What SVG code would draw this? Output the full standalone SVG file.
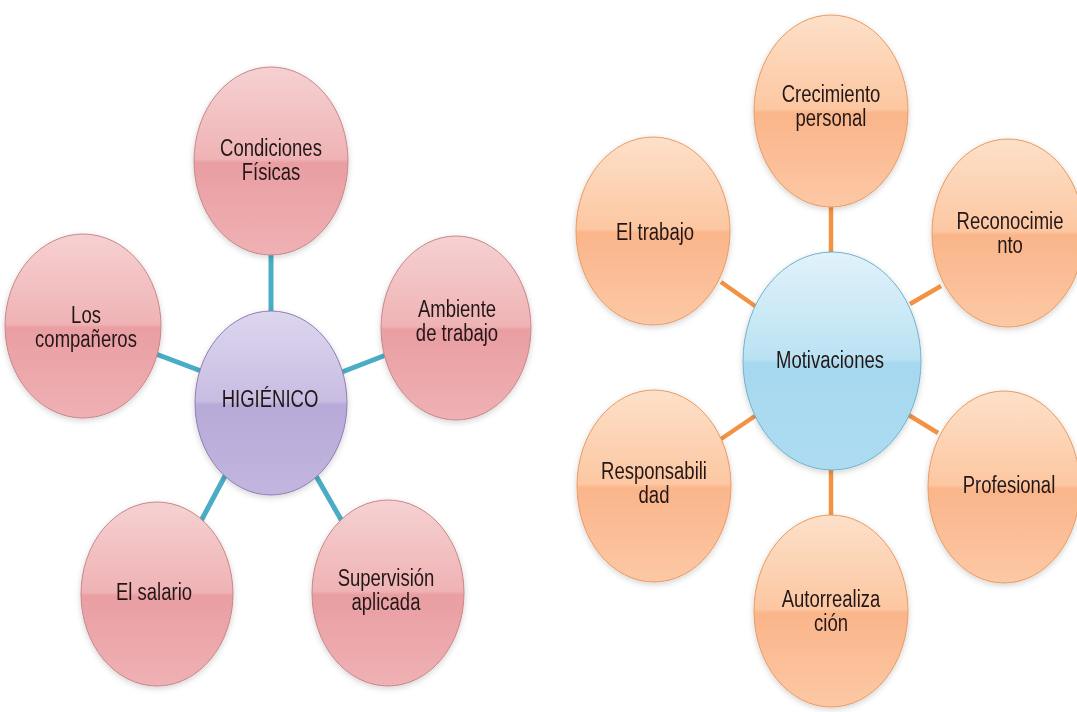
<svg xmlns="http://www.w3.org/2000/svg" width="1077" height="712" viewBox="0 0 1077 712">
<style>
.t{font-family:"Liberation Sans",Arial,sans-serif;font-size:18.5px;text-anchor:middle;fill:#241818}
.pk{fill:url(#gPink);stroke:#c98587;stroke-width:1}
.pu{fill:url(#gPurple);stroke:#8f7db5;stroke-width:1}
.or{fill:url(#gOrange);stroke:#e99a5f;stroke-width:1}
.bl{fill:url(#gBlue);stroke:#6db3cc;stroke-width:1}
.ct{stroke:#4aacc5;stroke-width:5;stroke-linecap:butt}
.co{stroke:#f29344;stroke-width:4.5;stroke-linecap:butt}
.sh{filter:url(#shadow)}
</style>
<defs>
<linearGradient id="gPink" x1="0" y1="0" x2="0" y2="1">
<stop offset="0" stop-color="#f6d1d2"/><stop offset="0.49" stop-color="#efb3b5"/><stop offset="0.51" stop-color="#e99ea2"/><stop offset="1" stop-color="#efb1b4"/>
</linearGradient>
<linearGradient id="gPurple" x1="0" y1="0" x2="0" y2="1">
<stop offset="0" stop-color="#ddd6ee"/><stop offset="0.49" stop-color="#c8bde2"/><stop offset="0.51" stop-color="#b8aad8"/><stop offset="1" stop-color="#c2b5de"/>
</linearGradient>
<linearGradient id="gOrange" x1="0" y1="0" x2="0" y2="1">
<stop offset="0" stop-color="#fde0c9"/><stop offset="0.49" stop-color="#fcc7a1"/><stop offset="0.51" stop-color="#fab58a"/><stop offset="1" stop-color="#fcc8a5"/>
</linearGradient>
<linearGradient id="gBlue" x1="0" y1="0" x2="0" y2="1">
<stop offset="0" stop-color="#e1f2fa"/><stop offset="0.49" stop-color="#bae2f3"/><stop offset="0.51" stop-color="#a6d8ef"/><stop offset="1" stop-color="#addcf1"/>
</linearGradient>
<filter id="shadow" x="-20%" y="-20%" width="140%" height="140%">
<feGaussianBlur in="SourceAlpha" stdDeviation="3"/><feOffset dx="0" dy="2" result="b"/>
<feComponentTransfer><feFuncA type="linear" slope="0.18"/></feComponentTransfer>
<feMerge><feMergeNode/><feMergeNode in="SourceGraphic"/></feMerge>
</filter>
</defs>
<rect width="1077" height="712" fill="#ffffff"/>
<g id="connectors">
<line class="ct" x1="271" y1="254" x2="271" y2="313"/>
<line class="ct" x1="156" y1="354" x2="201" y2="371"/>
<line class="ct" x1="342" y1="372" x2="386" y2="355"/>
<line class="ct" x1="226" y1="474" x2="201" y2="521"/>
<line class="ct" x1="316" y1="476" x2="343" y2="523"/>
<line class="co" x1="831" y1="206" x2="831" y2="253"/>
<line class="co" x1="721" y1="282" x2="755" y2="306"/>
<line class="co" x1="910" y1="304" x2="941" y2="286"/>
<line class="co" x1="721" y1="439" x2="755" y2="416"/>
<line class="co" x1="907" y1="414" x2="938" y2="433"/>
<line class="co" x1="831" y1="469" x2="831" y2="517"/>
</g>
<g id="cond" class="sh"><ellipse class="pk" cx="271" cy="161" rx="77" ry="94"/>
<text class="t" transform="translate(271,156) scale(1,1.25)"><tspan x="0" y="0">Condiciones</tspan><tspan x="0" y="19.5">Físicas</tspan></text></g>
<g id="companeros" class="sh"><ellipse class="pk" cx="83" cy="326" rx="78" ry="92"/>
<text class="t" transform="translate(86,323) scale(1,1.25)"><tspan x="0" y="0">Los</tspan><tspan x="0" y="19.5">compañeros</tspan></text></g>
<g id="ambiente" class="sh"><ellipse class="pk" cx="456" cy="328" rx="75" ry="92"/>
<text class="t" transform="translate(457,317) scale(1,1.25)"><tspan x="0" y="0">Ambiente</tspan><tspan x="0" y="19.5">de trabajo</tspan></text></g>
<g id="higienico" class="sh"><ellipse class="pu" cx="271" cy="403" rx="76" ry="92"/>
<text class="t" transform="translate(270,407) scale(1,1.25)">HIGIÉNICO</text></g>
<g id="salario" class="sh"><ellipse class="pk" cx="157" cy="594" rx="76" ry="92"/>
<text class="t" transform="translate(154,600) scale(1,1.25)">El salario</text></g>
<g id="supervision" class="sh"><ellipse class="pk" cx="388" cy="593" rx="76" ry="93"/>
<text class="t" transform="translate(386,586) scale(1,1.25)"><tspan x="0" y="0">Supervisión</tspan><tspan x="0" y="19.5">aplicada</tspan></text></g>
<g id="crecimiento" class="sh"><ellipse class="or" cx="831" cy="111" rx="77" ry="96"/>
<text class="t" transform="translate(831,102) scale(1,1.25)"><tspan x="0" y="0">Crecimiento</tspan><tspan x="0" y="19.5">personal</tspan></text></g>
<g id="eltrabajo" class="sh"><ellipse class="or" cx="653" cy="231" rx="77" ry="94"/>
<text class="t" transform="translate(655,240) scale(1,1.25)">El trabajo</text></g>
<g id="reconocimiento" class="sh"><ellipse class="or" cx="1008" cy="233" rx="76" ry="94"/>
<text class="t" transform="translate(1010,229) scale(1,1.25)"><tspan x="0" y="0">Reconocimie</tspan><tspan x="0" y="19">nto</tspan></text></g>
<g id="motivaciones" class="sh"><ellipse class="bl" cx="832" cy="361" rx="89" ry="109"/>
<text class="t" transform="translate(830,368) scale(1,1.25)">Motivaciones</text></g>
<g id="responsabilidad" class="sh"><ellipse class="or" cx="654" cy="486" rx="77" ry="96"/>
<text class="t" transform="translate(654,479) scale(1,1.25)"><tspan x="0" y="0">Responsabili</tspan><tspan x="0" y="19.5">dad</tspan></text></g>
<g id="profesional" class="sh"><ellipse class="or" cx="1004" cy="487" rx="76" ry="96"/>
<text class="t" transform="translate(1009,493) scale(1,1.25)">Profesional</text></g>
<g id="autorrealizacion" class="sh"><ellipse class="or" cx="831" cy="611" rx="77" ry="96"/>
<text class="t" transform="translate(831,607) scale(1,1.25)"><tspan x="0" y="0">Autorrealiza</tspan><tspan x="0" y="19.5">ción</tspan></text></g>
</svg>
